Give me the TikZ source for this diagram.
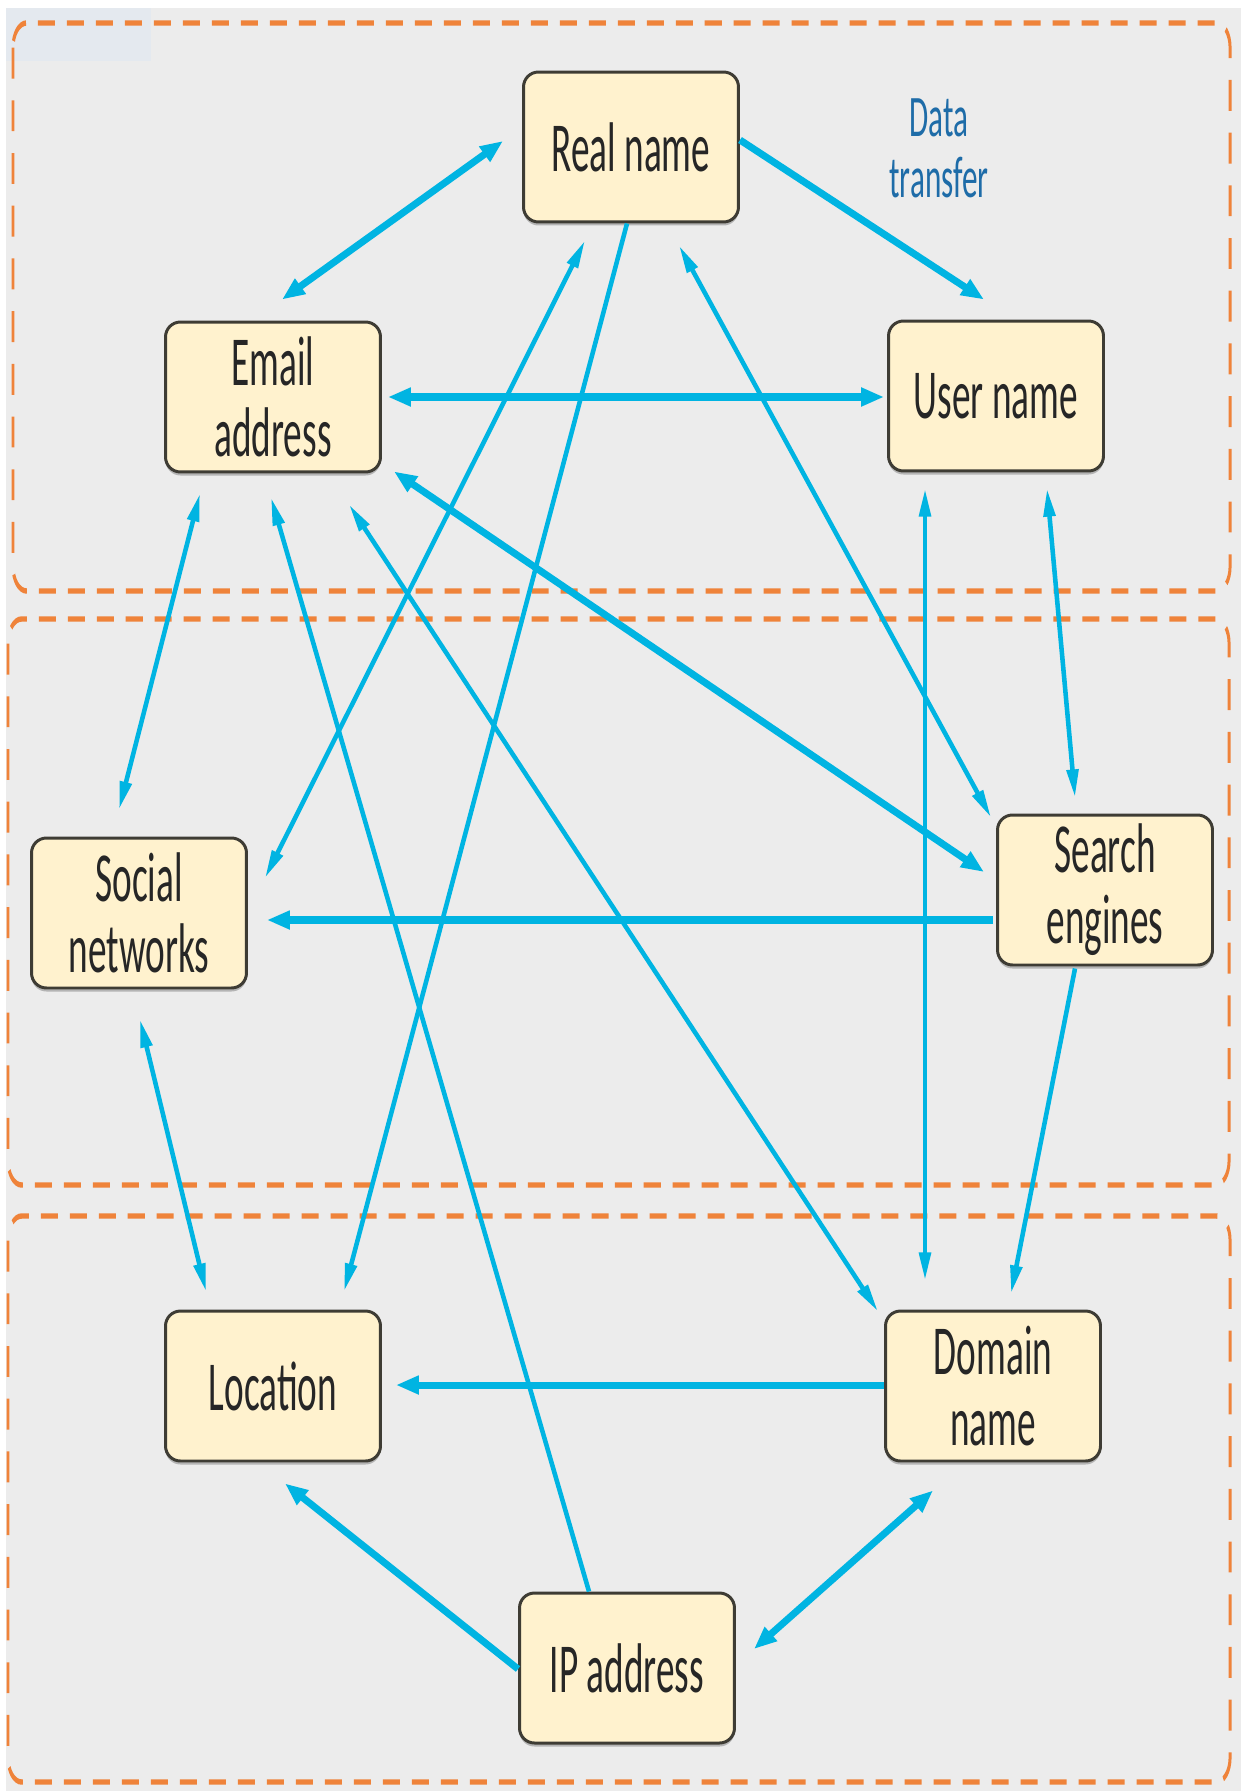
\documentclass[tikz,border=0pt]{standalone}
\usepackage{fontspec}
\usepackage{tikz}
\usetikzlibrary{arrows.meta,shadows}
\newfontfamily\boxfont[FakeStretch=0.53]{Carlito}
\definecolor{flowc}{RGB}{0,180,226}
\definecolor{zonec}{RGB}{239,131,58}
\definecolor{boxfill}{RGB}{255,242,206}
\definecolor{boxline}{RGB}{62,60,52}
\definecolor{bgc}{RGB}{236,236,236}
\definecolor{patchc}{RGB}{228,233,239}
\definecolor{labelc}{RGB}{30,108,168}
\definecolor{txtc}{RGB}{38,38,38}
\tikzset{
  infobox/.style={draw=boxline,line width=1.7pt,fill=boxfill,rounded corners=8.5pt,
    minimum width=4.3cm,minimum height=3cm,align=center,text=txtc,
    font=\boxfont\fontsize{40}{40.4}\selectfont,
    drop shadow={shadow xshift=0pt,shadow yshift=-2pt,opacity=.35,fill=black!70}},
  flow/.style={draw=flowc,line width=2.6pt,>={Triangle[length=16pt,width=6.5pt]}},
  bigflow/.style={draw=flowc,line width=4pt,>={Triangle[length=13pt,width=10pt]}},
  zone/.style={draw=zonec,line width=3.1pt,rounded corners=14pt,dash pattern=on 17.6pt off 12.4pt}
}

\begin{document}
\begin{tikzpicture}[x=0.02cm,y=-0.02cm]
  \useasboundingbox (0,0) rectangle (1241,1791);
  \fill[bgc] (6,8) rectangle (1241,1791);
  \fill[patchc] (6,8) rectangle (151,61);
  % three dashed zones (stretched like the source)
  \begin{scope}[transform canvas={xscale=0.55}]
    \foreach \l/\t/\r/\b in {13/23/1230/591,8/619/1229/1185,8/1216/1230/1782}
      \draw[zone] (\l/0.55,\t) rectangle (\r/0.55,\b);
  \end{scope}
  % data items
  \node[infobox] (real) at (631,147) {Real name};
  \node[infobox] (email) at (273,397) {Email\\address};
  \node[infobox] (user) at (996,396) {User name};
  \node[infobox] (social) at (139,913) {Social\\networks};
  \node[infobox] (search) at (1105,890) {Search\\engines};
  \node[infobox] (loc) at (273,1386) {Location};
  \node[infobox] (domain) at (993,1386) {Domain\\name};
  \node[infobox] (ip) at (627,1668) {IP address};
  \node[font=\boxfont\fontsize{33.5}{34.7}\selectfont,text=labelc,align=center] (lbl) at (939,148) {Data\\transfer};
  % transfers
  \draw[bigflow,<->] ([shift={(-19,-6)}]real.west) -- ([shift={(9,-21)}]email.north);
  \draw[bigflow,->] ([shift={(0,-7)}]real.east) -- ([shift={(-12,-20)}]user.north);
  \draw[bigflow,<->] ([shift={(6,0)}]email.east) -- ([shift={(-3,1)}]user.west);
  \draw[flow,<->] ([shift={(-46,17)}]real.south) -- ([shift={(17,-35)}]social.east);
  \draw[flow,->] ([shift={(-4,0)}]real.south) -- ([shift={(71,-18)}]loc.north);
  \draw[flow,<->] ([shift={(48,22)}]real.south) -- ([shift={(-5,4)}]search.north west);
  \draw[flow,->] ([shift={(-38,0)}]ip.north) -- ([shift={(-2,24)}]email.south);
  \draw[flow,<->] ([shift={(76,31)}]email.south) -- ([shift={(-6,2)}]domain.north west);
  \draw[bigflow,<->] ([shift={(12,-2)}]email.south east) -- ([shift={(-12,-18)}]search.west);
  \draw[flow,<->] ([shift={(-73,20)}]email.south) -- ([shift={(-20,-27)}]social.north);
  \draw[flow,<->] ([shift={(-71,16)}]user.south) -- ([shift={(-68,-29)}]domain.north);
  \draw[flow,<->] ([shift={(51,16)}]user.south) -- ([shift={(-30,-16)}]search.north);
  \draw[bigflow,->] ([shift={(-3,30)}]search.west) -- ([shift={(19,7)}]social.east);
  \draw[flow,->] ([shift={(-30,2)}]search.south) -- ([shift={(18,-16)}]domain.north);
  \draw[flow,<->] ([shift={(1,30)}]social.south) -- ([shift={(-67,-18)}]loc.north);
  \draw[bigflow,->] ([shift={(0,-1)}]domain.west) -- ([shift={(14,-1)}]loc.east);
  \draw[bigflow,->] ([shift={(0,1)}]ip.west) -- ([shift={(12,21)}]loc.south);
  \draw[bigflow,<->] ([shift={(18,-19)}]ip.east) -- ([shift={(-60,28)}]domain.south);
\end{tikzpicture}
\end{document}
